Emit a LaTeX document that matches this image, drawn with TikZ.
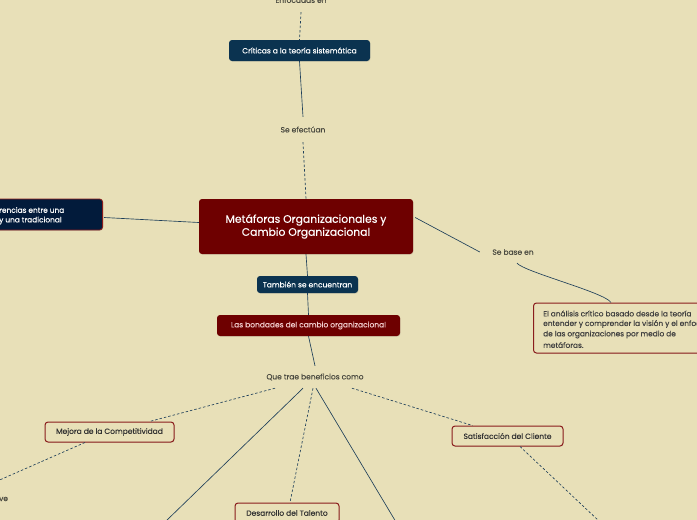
\documentclass[tikz,border=0pt]{standalone}
\usepackage{fontspec}
\setmainfont{Poppins}[FakeBold=0.35]
\usetikzlibrary{calc,shadows}
\definecolor{bg}{HTML}{E8E0B8}
\definecolor{navy}{HTML}{0B3350}
\definecolor{navyd}{HTML}{021B3B}
\definecolor{dred}{HTML}{6E0000}
\definecolor{bred}{HTML}{8A1C1C}
\definecolor{ln}{HTML}{1E3F5A}
\definecolor{lbl}{HTML}{4A4A40}
\definecolor{pinkt}{HTML}{F2CFCF}
\tikzset{
  box/.style={rounded corners=3pt, inner sep=0pt, align=center,
    drop shadow={opacity=0.15, shadow xshift=0.6pt, shadow yshift=-0.8pt}},
  navybox/.style={box, fill=navy, text=white, font=\fontsize{7.5}{9}\selectfont},
  redbox/.style={box, fill=dred, text=white},
  beigebox/.style={box, fill=bg, draw=bred, line width=1pt, text=black!80,
    font=\fontsize{7.5}{9}\selectfont},
  lab/.style={text=lbl, font=\fontsize{7.5}{9}\selectfont, inner sep=0pt},
  btxt/.style={text=black!75, font=\fontsize{7.4}{9}\selectfont, inner sep=0pt, anchor=west},
  conn/.style={draw=ln, line width=0.65pt},
  dconn/.style={conn, dash pattern=on 2.5pt off 2pt},
}
\begin{document}
\begin{tikzpicture}[x=1pt,y=-1pt]
\fill[bg] (0,0) rectangle (697,520);
\useasboundingbox (0,0) rectangle (697,520);

% labels
\node[lab, minimum height=24pt] (enf) at (301,0) {Enfocadas en};
\node[lab, minimum height=25pt] (sefec) at (303,129.5) {Se efectúan};
\node[lab, minimum width=66pt, minimum height=22pt] (sebase) at (513,252) {Se base en};
\node[lab, minimum height=22pt] (quetrae) at (315,377) {Que trae beneficios como};
\node[btxt, text=lbl] (ve) at (-1,499) {ve};

% boxes
\node[navybox, minimum width=141pt, minimum height=21pt] (crit) at (299.5,50.5) {Críticas a la teoría sistemática};
\node[redbox, minimum width=214pt, minimum height=55pt, font=\fontsize{10.8}{13}\selectfont] (central) at (306,226.5) {Metáforas Organizacionales y\\Cambio Organizacional};
\node[box, fill=navyd, draw=bred, line width=0.8pt, minimum width=160pt, minimum height=31pt, anchor=east] (left) at (103,214.5) {};
\node[btxt, text=white] (l1) at (-1,210) {rencias entre una};
\node[btxt, text=white] (l2) at (-1,220.5) {y una tradicional};
\node[navybox, minimum width=101pt, minimum height=17pt] (tamb) at (307.5,284.5) {También se encuentran};
\node[redbox, text=pinkt, minimum width=183pt, minimum height=21pt, font=\fontsize{7.5}{9}\selectfont] (bond) at (308.5,325.5) {Las bondades del cambio organizacional};
\node[beigebox, minimum width=200pt, minimum height=50pt, anchor=west] (anal) at (533,328) {};
\node[btxt] (a1) at (543,313.5) {El análisis crítico basado desde la teoría};
\node[btxt] (a2) at (543,324) {entender y comprender la visión y el enfoque};
\node[btxt] (a3) at (543,334.5) {de las organizaciones por medio de};
\node[btxt] (a4) at (543,345) {metáforas.};
\node[beigebox, minimum width=129pt, minimum height=20pt] (mejora) at (109.5,432) {Mejora de la Competitividad};
\node[beigebox, minimum width=111pt, minimum height=20pt] (satis) at (507.5,436) {Satisfacción del Cliente};
\node[beigebox, minimum width=104pt, minimum height=20pt] (desarr) at (287,513) {Desarrollo del Talento};

% free ends
\coordinate (fe1) at (-5,482);
\coordinate (fe2) at (165,522);
\coordinate (fe3) at (396,522);
\coordinate (fe4) at (600,522);

% connectors
\draw[dconn] (enf.south) -- (crit.north);
\draw[conn] (crit.south) -- (sefec.north);
\draw[dconn] (sefec.south) -- (central.north);
\draw[conn] ($(left.east)+(1,3)$) -- ($(central.west)+(0,-4)$);
\draw[conn] ($(central.east)+(2,-9)$) -- (sebase.west);
\draw[conn] ($(sebase.south)+(4,0)$) .. controls +(8,9) and +(-6,-10) .. ($(anal.north west)+(78,0)$);
\draw[conn] (central.south) -- (tamb.north);
\draw[conn] (tamb.south) -- (bond.north);
\draw[conn] (bond.south) -- (quetrae.north);
\draw[dconn] ($(quetrae.south)+(-40,0)$) -- ($(mejora.north)+(40,0)$);
\draw[dconn] ($(mejora.south)+(-24.5,0)$) -- (fe1);
\draw[conn] ($(quetrae.south)+(-12,0)$) -- (fe2);
\draw[dconn] ($(quetrae.south)+(-2,0)$) -- ($(desarr.north)+(3,0)$);
\draw[conn] ($(quetrae.south)+(1,0)$) -- (fe3);
\draw[dconn] ($(quetrae.south)+(37,0)$) -- ($(satis.north)+(-35,0)$);
\draw[dconn] ($(satis.south)+(12.5,0)$) -- (fe4);
\end{tikzpicture}
\end{document}
